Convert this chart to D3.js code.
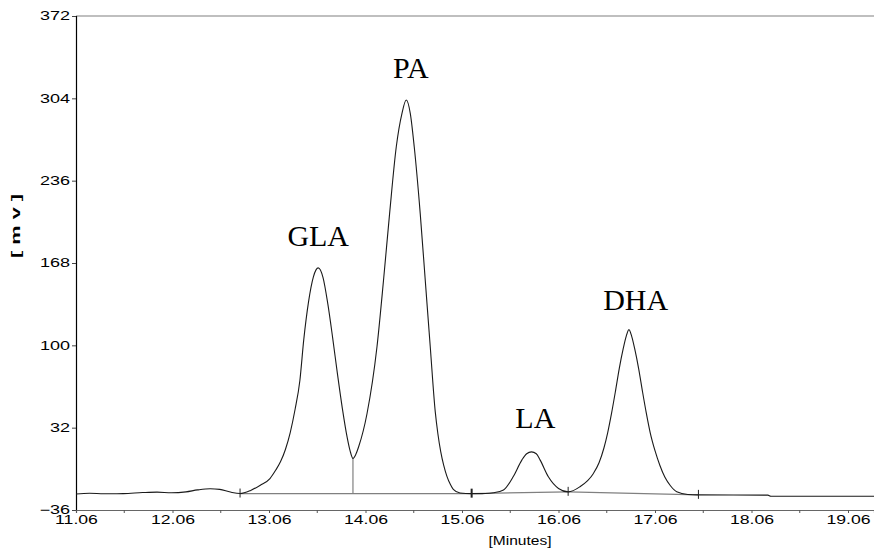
<!DOCTYPE html>
<html>
<head>
<meta charset="utf-8">
<script src="https://cdn.jsdelivr.net/npm/d3@7"></script>
<style>
  body { margin: 0; background: #fff; }
  .tick text { font-family: "Liberation Sans", Arial, sans-serif; }
</style>
</head>
<body>
<div class="container"></div>
<script>
// chromatogram trace: time (min) and signal (mV)
var times = [11.06, 11.20, 11.35, 11.55, 11.75, 11.90, 12.05, 12.20, 12.32, 12.45, 12.55, 12.66,
  12.76, 12.87, 12.97, 13.07, 13.13, 13.18, 13.23, 13.28, 13.33, 13.38, 13.42, 13.47, 13.52, 13.57,
  13.62, 13.67, 13.72, 13.77, 13.82, 13.87, 13.90, 13.93, 13.96, 13.989, 14.076, 14.179, 14.247,
  14.31, 14.379, 14.438, 14.482, 14.524, 14.565, 14.627, 14.679, 14.731, 14.783, 14.81, 14.84,
  14.87, 14.903, 14.94, 14.97, 15.04, 15.16, 15.30, 15.386, 15.49, 15.59, 15.68, 15.73, 15.78,
  15.83, 15.87, 15.955, 16.06, 16.16, 16.28, 16.42, 16.48, 16.53, 16.57, 16.61, 16.65, 16.69,
  16.73, 16.76, 16.79, 16.82, 16.85, 16.89, 16.93, 16.97, 17.01, 17.06, 17.11, 17.163, 17.22,
  17.285, 17.40, 17.51, 18.23, 18.26, 19.33];
var signal = [-22.8, -22.2, -22.6, -22.5, -21.6, -21.2, -21.8, -21.0, -19.4, -18.4, -19.0, -21.2,
  -22.4, -19.8, -15.5, -10, -3, 4, 14, 28, 47, 71, 104.5, 136.1, 156.6, 164,
  156, 134, 106, 76, 48, 24, 13, 6.6, 10, 16.2, 43.7, 98.8, 153.9,
  209, 264, 291.6, 302.6, 291.6, 264, 209, 153.9, 98.8, 45, 27, 12,
  1, -8, -15, -19, -22.0, -22.5, -22.4, -21.8, -19.5, -8.6, 5.2, 10.5, 12,
  10.5, 5.2, -8.6, -18.2, -21.0, -16.9, -6, 3, 15, 28, 44, 62, 81,
  97, 107, 113, 107, 97, 81, 62, 44, 28, 13, 1, -9, -16,
  -21, -23.2, -23.5, -23.7, -24.6, -24.6];

// integration baseline segments (start/end time and level)
var baseStart = [12.76, 15.16, 16.16];
var baseEnd = [15.16, 16.16, 17.51];
var baseStartVal = [-22.4, -22.5, -21.0];
var baseEndVal = [-22.5, -21.0, -23.5];

// peak marks
var markTimes = [12.76, 15.16, 16.16, 17.51];
var markVals = [-22.4, -22.5, -21.0, -23.5];
var dropTime = 13.93;
var dropTop = 6.6;
var dropBottom = -22.4;

// peak labels
var peakNames = ["GLA", "PA", "LA", "DHA"];
var peakTimes = [13.57, 14.53, 15.82, 16.86];
var peakLabelVals = [182, 321, 31.6, 129];

// axes ticks
var xTicks = [11.06, 12.06, 13.06, 14.06, 15.06, 16.06, 17.06, 18.06, 19.06];
var xMinor = [11.56, 12.56, 13.56, 14.56, 15.56, 16.56, 17.56, 18.56];
var yTicks = [-36, 32, 100, 168, 236, 304, 372];

var svgWidth = 874;
var svgHeight = 550;

var margin = {
  top: 16,
  right: 0,
  bottom: 40,
  left: 76
};

var width = svgWidth - margin.left - margin.right;
var height = svgHeight - margin.top - margin.bottom;

var svg = d3.select(".container")
  .append("svg")
  .attr("width", svgWidth)
  .attr("height", svgHeight);

var chartGroup = svg.append("g")
  .attr("transform", `translate(${margin.left}, ${margin.top})`);

// scales
var xScale = d3.scaleLinear()
  .domain([11.06, 11.06 + width / 96.5])
  .range([0, width]);

var yScale = d3.scaleLinear()
  .domain([-36, 372])
  .range([height, 0]);

// the source picture is stretched sideways, so widen the sans texts
function stretch(sel, k) {
  sel.each(function() {
    var w = this.getComputedTextLength();
    d3.select(this)
      .attr("textLength", w * k)
      .attr("lengthAdjust", "spacingAndGlyphs");
  });
}

// top frame line
chartGroup.append("line")
  .attr("x1", 0)
  .attr("x2", width)
  .attr("y1", 0)
  .attr("y2", 0)
  .attr("stroke", "#808080")
  .attr("stroke-width", 1.2);

// y axis
var leftAxis = d3.axisLeft(yScale)
  .tickValues(yTicks)
  .tickSize(4)
  .tickPadding(2)
  .tickFormat(d3.format("d"));

var yAxis = chartGroup.append("g")
  .call(leftAxis);
yAxis.select(".domain").attr("stroke", "#000").attr("stroke-width", 1.2);
yAxis.selectAll(".tick line").attr("stroke", "#444");
yAxis.selectAll(".tick text")
  .attr("font-size", 12)
  .attr("fill", "#000")
  .call(stretch, 1.5);

// x axis
var bottomAxis = d3.axisBottom(xScale)
  .tickValues(xTicks)
  .tickSize(3)
  .tickPadding(2)
  .tickFormat(d3.format(".2f"));

var xAxis = chartGroup.append("g")
  .attr("transform", `translate(0, ${height})`)
  .call(bottomAxis);
xAxis.select(".domain").attr("stroke", "#666").attr("stroke-width", 1.2);
xAxis.selectAll(".tick line").attr("stroke", "#555");
xAxis.selectAll(".tick text")
  .attr("font-size", 12)
  .attr("fill", "#000")
  .call(stretch, 1.47);

// minor ticks on x axis
chartGroup.append("g")
  .selectAll("line")
  .data(xMinor)
  .enter()
  .append("line")
  .attr("x1", d => xScale(d))
  .attr("x2", d => xScale(d))
  .attr("y1", height)
  .attr("y2", height + 3)
  .attr("stroke", "#555");

// integration baselines
chartGroup.append("g")
  .selectAll("line")
  .data(baseStart)
  .enter()
  .append("line")
  .attr("x1", (d, i) => xScale(d))
  .attr("x2", (d, i) => xScale(baseEnd[i]))
  .attr("y1", (d, i) => yScale(baseStartVal[i]))
  .attr("y2", (d, i) => yScale(baseEndVal[i]))
  .attr("stroke", "#808080")
  .attr("stroke-width", 1.2);

// drop line between GLA and PA
chartGroup.append("line")
  .attr("x1", xScale(dropTime))
  .attr("x2", xScale(dropTime))
  .attr("y1", yScale(dropTop))
  .attr("y2", yScale(dropBottom))
  .attr("stroke", "#808080")
  .attr("stroke-width", 1.2);

// signal trace
var traceData = times.map((t, i) => ({ t: t, v: signal[i] }));

var line = d3.line()
  .x(d => xScale(d.t))
  .y(d => yScale(d.v))
  .curve(d3.curveMonotoneX);

chartGroup.append("path")
  .datum(traceData)
  .attr("d", line)
  .attr("fill", "none")
  .attr("stroke", "#1a1a1a")
  .attr("stroke-width", 1.1);

// peak start / end marks
chartGroup.append("g")
  .selectAll("line")
  .data(markTimes)
  .enter()
  .append("line")
  .attr("x1", d => xScale(d))
  .attr("x2", d => xScale(d))
  .attr("y1", (d, i) => yScale(markVals[i]) - 5)
  .attr("y2", (d, i) => yScale(markVals[i]) + 4)
  .attr("stroke", "#222")
  .attr("stroke-width", (d, i) => i === 1 ? 2 : 1);

// peak labels
chartGroup.append("g")
  .selectAll("text")
  .data(peakNames)
  .enter()
  .append("text")
  .attr("x", (d, i) => xScale(peakTimes[i]))
  .attr("y", (d, i) => yScale(peakLabelVals[i]))
  .attr("text-anchor", "middle")
  .attr("font-family", "'Liberation Serif', 'Times New Roman', serif")
  .attr("font-size", 30)
  .attr("fill", "#000")
  .text(d => d);

// axis titles
svg.append("text")
  .attr("x", 520)
  .attr("y", 545)
  .attr("text-anchor", "middle")
  .attr("font-family", "'Liberation Sans', Arial, sans-serif")
  .attr("font-size", 12)
  .attr("textLength", 63)
  .attr("lengthAdjust", "spacingAndGlyphs")
  .text("[Minutes]");

svg.append("text")
  .attr("transform", "translate(20, 226) rotate(-90)")
  .attr("text-anchor", "middle")
  .attr("font-family", "'Liberation Sans', Arial, sans-serif")
  .attr("font-size", 12)
  .attr("font-weight", "bold")
  .attr("textLength", 64)
  .attr("lengthAdjust", "spacingAndGlyphs")
  .text("[ m v ]");
</script>
</body>
</html>
